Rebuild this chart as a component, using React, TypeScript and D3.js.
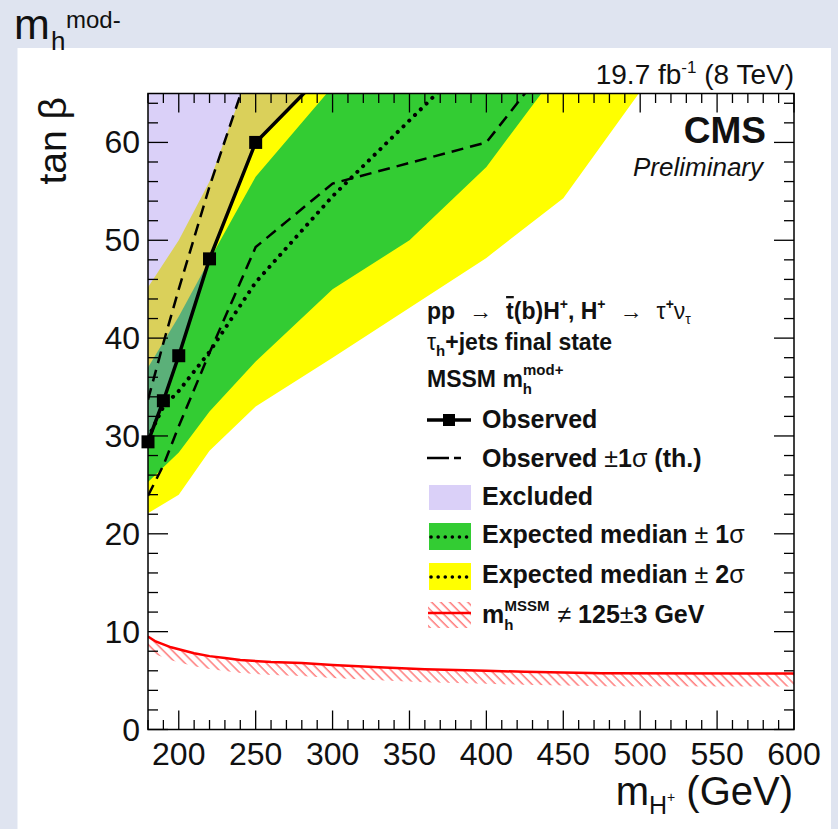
import React from 'react';
import * as d3 from 'd3';

const W = 838;
const H = 829;

// charged Higgs mass points (GeV) and tan(beta) limits
const obsMass = [180, 190, 200, 220, 250, 300];
const obsTanb = [29.4, 33.6, 38.2, 48.1, 60.0, 68.0];
const markerMass = [180, 190, 200, 220, 250];
const markerTanb = [29.4, 33.6, 38.2, 48.1, 60.0];

// observed +/- 1 sigma (theory)
const thUpMass = [180, 190, 200, 220, 250];
const thUpTanb = [33.7, 39.5, 45.0, 55.5, 69.5];
const thDownMass = [180, 190, 200, 220, 250, 300, 400, 500];
const thDownTanb = [23.9, 27.0, 31.0, 38.5, 49.3, 55.8, 60.0, 80.0];

// expected median
const expMass = [180, 190, 200, 220, 250, 300, 400];
const expTanb = [29.8, 33.0, 34.6, 38.6, 45.7, 54.5, 70.0];

// +/- 1 sigma band
const band1UpMass = [180, 200, 220, 250, 300];
const band1UpTanb = [37.0, 42.2, 48.0, 56.5, 65.7];
const band1LowMass = [180, 200, 220, 250, 300, 350, 400, 450];
const band1LowTanb = [25.3, 28.3, 32.5, 37.6, 45.0, 50.0, 57.5, 68.0];

// +/- 2 sigma band
const band2UpMass = [180, 190, 200, 220, 250];
const band2UpTanb = [45.2, 47.6, 50.0, 56.0, 69.0];
const band2LowMass = [180, 200, 220, 250, 300, 400, 450, 500, 550];
const band2LowTanb = [22.1, 24.0, 28.5, 33.0, 38.0, 48.2, 54.3, 65.2, 76.0];

// m_h != 125 +/- 3 GeV contour
const mhMass = [180, 185, 190, 195, 200, 210, 220, 230, 240, 260, 280, 300, 330, 360, 400, 425, 475, 600];
const mhTanb = [9.5, 9.0, 8.7, 8.4, 8.2, 7.8, 7.5, 7.3, 7.1, 6.9, 6.8, 6.6, 6.35, 6.15, 6.0, 5.9, 5.75, 5.72];

const xLabels = [200, 250, 300, 350, 400, 450, 500, 550, 600];
const yLabels = [0, 10, 20, 30, 40, 50, 60];

const FONT = '"Liberation Sans", Arial, Helvetica, sans-serif';
const YELLOW = '#ffff00';
const GREEN = '#33cc33';
const EXCL = 'rgb(158,132,237)';
const EXCL_OP = 0.38;

const zip = (ms: number[], ts: number[]) => ms.map((m, i) => [m, ts[i]] as [number, number]);

const App = () => {
  const x = d3.scaleLinear().domain([180, 600]).range([148, 794]);
  const y = d3.scaleLinear().domain([0, 65]).range([729.5, 93.5]);
  const [x0, x1] = x.range();
  const [y0, y1] = y.range();

  const line = d3.line<[number, number]>().x(d => x(d[0])).y(d => y(d[1]));
  const band = (up: [number, number][], low: [number, number][]) =>
    line([...up, ...low.slice().reverse()]) + 'Z';

  const obs = zip(obsMass, obsTanb);
  // everything left of the observed limit is excluded
  const excluded = line([...obs, [x.domain()[0], y.domain()[1] + 5]]) + 'Z';

  const mh = zip(mhMass, mhTanb);
  const mhArea = d3.area<[number, number]>()
    .x(d => x(d[0]))
    .y0(d => y(d[1]) + 13)
    .y1(d => y(d[1]));

  const xMinor = d3.range(180, 601, 10);
  const yMinor = d3.range(0, 65, 2);

  const legX = 427;
  const txtX = 482;

  return (
    <svg width={W} height={H} style={{ position: 'fixed', left: 0, top: 0, fontFamily: FONT }}>
      <defs>
        <clipPath id="plot">
          <rect x={x0} y={y1} width={x1 - x0} height={y0 - y1} />
        </clipPath>
        <pattern id="hatch" width={6.4} height={10} patternUnits="userSpaceOnUse" patternTransform="rotate(-45)">
          <line x1={1} y1={0} x2={1} y2={10} stroke="#ff3a3a" strokeWidth={1} />
        </pattern>
      </defs>

      <rect x={0} y={0} width={W} height={H} fill="#dfe4f0" />
      <rect x={17.5} y={48} width={813.5} height={H - 48} fill="#ffffff" />

      {/* page title */}
      <text x={14} y={39} fontSize={43} fill="#111">m</text>
      <text x={51} y={50} fontSize={26} fill="#111">h</text>
      <text x={66} y={28} fontSize={24} fill="#111">mod-</text>

      <g clipPath="url(#plot)">
        <path d={band(zip(band2UpMass, band2UpTanb), zip(band2LowMass, band2LowTanb))} fill={YELLOW} />
        <path d={band(zip(band1UpMass, band1UpTanb), zip(band1LowMass, band1LowTanb))} fill={GREEN} />
        <path d={excluded} fill={EXCL} fillOpacity={EXCL_OP} />

        <path d={mhArea(mh) || ''} fill="url(#hatch)" />
        <path d={line(mh) || ''} fill="none" stroke="#ff0000" strokeWidth={2.5} />

        <path d={line(zip(thUpMass, thUpTanb)) || ''} fill="none" stroke="#000" strokeWidth={2.5} strokeDasharray="12,7" />
        <path d={line(zip(thDownMass, thDownTanb)) || ''} fill="none" stroke="#000" strokeWidth={2.5} strokeDasharray="12,7" />
        <path d={line(zip(expMass, expTanb)) || ''} fill="none" stroke="#000" strokeWidth={4} strokeDasharray="0.1,8" strokeLinecap="round" />
        <path d={line(obs) || ''} fill="none" stroke="#000" strokeWidth={3.5} />
      </g>

      {markerMass.map((m, i) => (
        <rect key={m} x={x(m) - 6.5} y={y(markerTanb[i]) - 6.5} width={13} height={13} fill="#000" />
      ))}

      {/* frame and ticks */}
      <rect x={x0} y={y1} width={x1 - x0} height={y0 - y1} fill="none" stroke="#000" strokeWidth={1.5} />
      {xMinor.map(m => {
        const len = m % 50 === 0 ? 19 : 9.5;
        return (
          <g key={'xt' + m} stroke="#000" strokeWidth={1.3}>
            <line x1={x(m)} x2={x(m)} y1={y0} y2={y0 - len} />
            <line x1={x(m)} x2={x(m)} y1={y1} y2={y1 + len} />
          </g>
        );
      })}
      {yMinor.map(t => {
        const len = t % 10 === 0 ? 20 : 10;
        return (
          <g key={'yt' + t} stroke="#000" strokeWidth={1.3}>
            <line x1={x0} x2={x0 + len} y1={y(t)} y2={y(t)} />
            <line x1={x1} x2={x1 - len} y1={y(t)} y2={y(t)} />
          </g>
        );
      })}

      {xLabels.map(m => (
        <text key={'xl' + m} x={x(m)} y={765} fontSize={32} textAnchor="middle" fill="#111">{m}</text>
      ))}
      {yLabels.map(t => (
        <text key={'yl' + t} x={140} y={y(t) + 11} fontSize={32} textAnchor="end" fill="#111">{t}</text>
      ))}

      {/* axis titles */}
      <text transform="translate(66,97) rotate(-90)" fontSize={39} textAnchor="end" fill="#111">tan β</text>
      <text x={793} y={805} fontSize={40} textAnchor="end" fill="#111">
        m<tspan fontSize={25} dy={9}>H</tspan><tspan fontSize={14} dy={-12}>+</tspan><tspan dy={3}> (GeV)</tspan>
      </text>

      <text x={794} y={84} fontSize={28} textAnchor="end" fill="#111">
        19.7 fb<tspan fontSize={17} dy={-11}>-1</tspan><tspan dy={11}> (8 TeV)</tspan>
      </text>
      <text x={766} y={143} fontSize={37} fontWeight="bold" textAnchor="end" fill="#111">CMS</text>
      <text x={763} y={176} fontSize={26} fontStyle="italic" textAnchor="end" fill="#111">Preliminary</text>

      {/* legend header */}
      <g fill="#111" fontSize={23} fontWeight="bold">
        <text x={legX} y={319}>
          pp<tspan fontWeight="normal" dx={14}>→</tspan>
          <tspan dx={14} textDecoration="overline">t</tspan>(b)H<tspan fontSize={14} dy={-10}>+</tspan>
          <tspan dy={10}>, H</tspan><tspan fontSize={14} dy={-10}>+</tspan>
          <tspan fontWeight="normal" dy={10} dx={14}>→</tspan>
          <tspan fontWeight="normal" dx={14}>τ</tspan><tspan fontSize={14} dy={-10}>+</tspan>
          <tspan fontWeight="normal" dy={10}>ν</tspan><tspan fontWeight="normal" fontSize={14} dy={5}>τ</tspan>
        </text>
        <text x={legX} y={350}>
          <tspan fontWeight="normal">τ</tspan><tspan fontSize={15} dy={6}>h</tspan><tspan dy={-6}>+jets final state</tspan>
        </text>
        <text x={legX} y={387}>
          MSSM  m<tspan fontSize={15} dy={7}>h</tspan><tspan fontSize={15} dx={-9} dy={-19}>mod+</tspan>
        </text>
      </g>

      {/* legend entries */}
      <g>
        <line x1={legX} x2={471} y1={420} y2={420} stroke="#000" strokeWidth={3.5} />
        <rect x={449 - 6} y={420 - 6} width={12} height={12} fill="#000" />

        <line x1={legX} x2={471} y1={458} y2={458} stroke="#000" strokeWidth={2.5} strokeDasharray="22,5,7,50" />

        <rect x={429} y={485} width={42} height={25} fill={EXCL} fillOpacity={EXCL_OP} />

        <rect x={429} y={523} width={42} height={27} fill={GREEN} />
        <line x1={431} x2={470} y1={537} y2={537} stroke="#000" strokeWidth={3.5} strokeDasharray="0.1,7" strokeLinecap="round" />

        <rect x={429} y={563} width={42} height={27} fill={YELLOW} />
        <line x1={431} x2={470} y1={577} y2={577} stroke="#000" strokeWidth={3.5} strokeDasharray="0.1,7" strokeLinecap="round" />

        <rect x={428} y={602} width={43} height={26} fill="url(#hatch)" />
        <line x1={428} x2={471} y1={613} y2={613} stroke="#ff0000" strokeWidth={2.5} />
      </g>
      <g fill="#111" fontSize={25} fontWeight="bold">
        <text x={txtX} y={428}>Observed</text>
        <text x={txtX} y={467}>
          Observed <tspan fontWeight="normal">±</tspan>1<tspan fontWeight="normal">σ</tspan> (th.)
        </text>
        <text x={txtX} y={505}>Excluded</text>
        <text x={txtX} y={543}>
          Expected median <tspan fontWeight="normal">±</tspan> 1<tspan fontWeight="normal">σ</tspan>
        </text>
        <text x={txtX} y={583}>
          Expected median <tspan fontWeight="normal">±</tspan> 2<tspan fontWeight="normal">σ</tspan>
        </text>
        <text x={txtX} y={623}>
          m<tspan fontSize={15} dy={7}>h</tspan><tspan fontSize={15} dx={-9} dy={-19}>MSSM</tspan>
          <tspan fontWeight="normal" dy={12} dx={8}>≠</tspan> 125<tspan fontWeight="normal">±</tspan>3 GeV
        </text>
      </g>
    </svg>
  );
};

export default App;
